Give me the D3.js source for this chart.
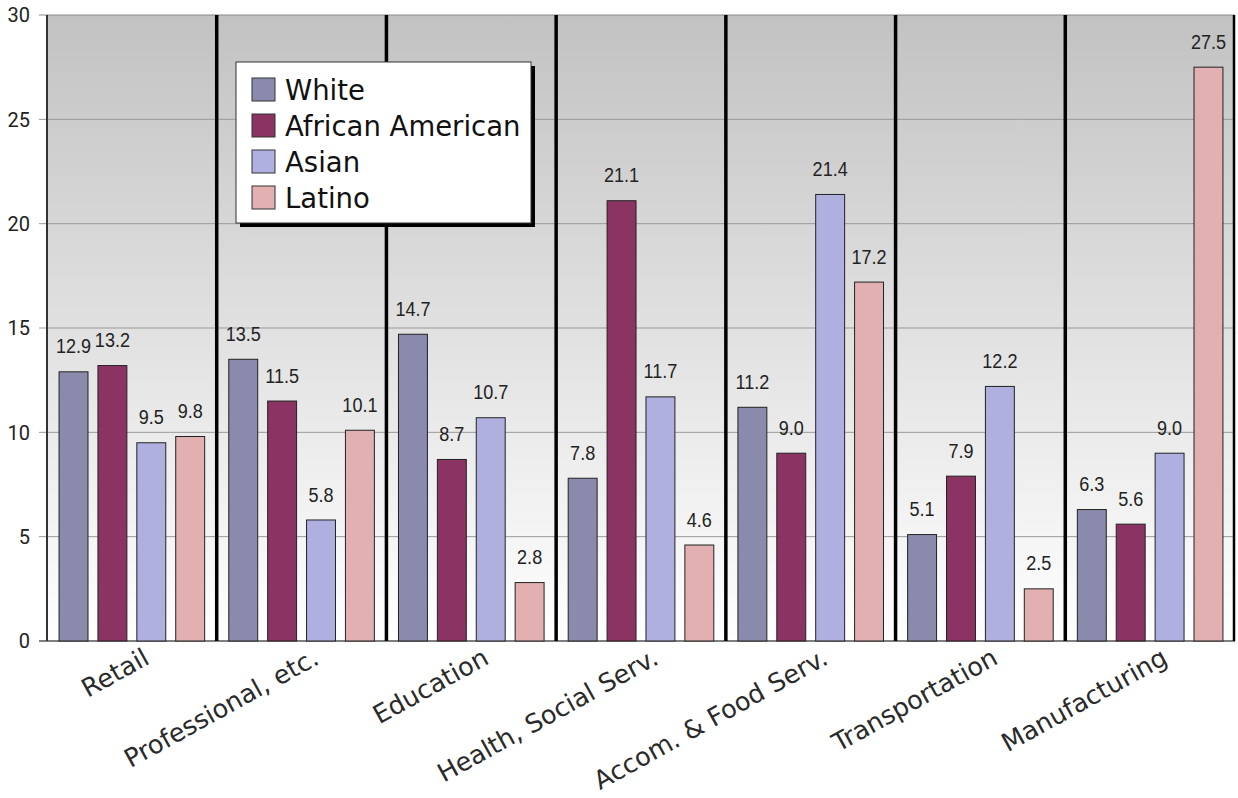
<!DOCTYPE html>
<html>
<head>
<meta charset="utf-8">
<script src="https://cdn.jsdelivr.net/npm/d3@7"></script>
<style>
  html, body { margin: 0; padding: 0; background: #fff; }
  svg { display: block; }
</style>
</head>
<body>
<svg id="chart" width="1238" height="798"></svg>
<script>
// Industry share of employment by group (%)
const categories = ["Retail", "Professional, etc.", "Education", "Health, Social Serv.",
                    "Accom. & Food Serv.", "Transportation", "Manufacturing"];
const seriesNames = ["White", "African American", "Asian", "Latino"];
const white           = [12.9, 13.5, 14.7, 7.8, 11.2, 5.1, 6.3];
const africanAmerican = [13.2, 11.5, 8.7, 21.1, 9.0, 7.9, 5.6];
const asian           = [9.5, 5.8, 10.7, 11.7, 21.4, 12.2, 9.0];
const latino          = [9.8, 10.1, 2.8, 4.6, 17.2, 2.5, 27.5];
const yTicks = [0, 5, 10, 15, 20, 25, 30];

const seriesValues = [white, africanAmerican, asian, latino];
const colors = ["#8a8aac", "#8b3363", "#b0b0e0", "#e2b0b0"];

const svg = d3.select("#chart");
const margin = { left: 47, right: 3, top: 15, bottom: 157 };
const W = 1238, H = 798;
const plotW = W - margin.left - margin.right;
const plotH = H - margin.top - margin.bottom;

const x0 = d3.scaleBand().domain(categories).range([margin.left, margin.left + plotW]).padding(0);
const x1 = d3.scaleBand().domain(seriesNames).range([0, x0.bandwidth()])
  .paddingInner(0.256).paddingOuter(0.31);
const y = d3.scaleLinear().domain([0, 30]).range([margin.top + plotH, margin.top]);

// background gradient of the plot area
const defs = svg.append("defs");
const grad = defs.append("linearGradient").attr("id", "bg")
  .attr("x1", 0).attr("y1", 0).attr("x2", 0).attr("y2", 1);
grad.append("stop").attr("offset", "0%").attr("stop-color", "#c2c2c2");
grad.append("stop").attr("offset", "100%").attr("stop-color", "#ffffff");

svg.append("rect")
  .attr("x", margin.left).attr("y", margin.top)
  .attr("width", plotW).attr("height", plotH)
  .attr("fill", "url(#bg)");

// gridlines with tick stubs on the left
svg.append("g").selectAll("line").data(yTicks).join("line")
  .attr("x1", margin.left - 8).attr("x2", margin.left + plotW)
  .attr("y1", d => y(d)).attr("y2", d => y(d))
  .attr("stroke", d => d === 0 ? "#555" : (d === 30 ? "#888" : "#999"))
  .attr("stroke-width", d => d === 0 ? 1.5 : 1);

// y tick labels
svg.append("g").selectAll("text").data(yTicks).join("text")
  .attr("x", margin.left - 17).attr("y", d => y(d))
  .attr("dy", "0.36em")
  .attr("text-anchor", "end")
  .attr("font-family", "Roboto, 'Liberation Sans', sans-serif")
  .attr("font-size", 20)
  .attr("fill", "#222")
  .text(d => d);

// left border
svg.append("line")
  .attr("x1", margin.left).attr("x2", margin.left)
  .attr("y1", margin.top).attr("y2", margin.top + plotH)
  .attr("stroke", "#333").attr("stroke-width", 2);

// category separators (and right border)
svg.append("g").selectAll("line").data(categories.slice(1).concat(["__end"])).join("line")
  .attr("x1", (d, i) => i < categories.length - 1 ? x0(d) : margin.left + plotW - 1)
  .attr("x2", (d, i) => i < categories.length - 1 ? x0(d) : margin.left + plotW - 1)
  .attr("y1", margin.top).attr("y2", margin.top + plotH)
  .attr("stroke", "#000").attr("stroke-width", (d, i) => i < categories.length - 1 ? 3.5 : 2.5);

// bars
const groups = svg.append("g").selectAll("g").data(categories).join("g")
  .attr("transform", d => `translate(${x0(d)},0)`);

groups.each(function(cat, ci) {
  const g = d3.select(this);
  const rows = seriesNames.map((s, si) => ({ s, si, v: seriesValues[si][ci] }));
  g.selectAll("rect").data(rows).join("rect")
    .attr("x", d => x1(d.s))
    .attr("y", d => y(d.v))
    .attr("width", x1.bandwidth())
    .attr("height", d => y(0) - y(d.v))
    .attr("fill", d => colors[d.si])
    .attr("stroke", "#222").attr("stroke-width", 1);
  // value labels in a condensed face
  g.selectAll("text").data(rows).join("text")
    .attr("transform", d => `translate(${x1(d.s) + x1.bandwidth() / 2},${y(d.v) - 26}) scale(0.86,1)`)
    .attr("dy", "0.36em")
    .attr("text-anchor", "middle")
    .attr("font-family", "'Liberation Sans', Arial, sans-serif")
    .attr("font-size", 21)
    .attr("fill", "#222")
    .text(d => d.v.toFixed(1));
});

// rotated category labels
svg.append("g").selectAll("text").data(categories).join("text")
  .attr("transform", d => `translate(${x0(d) + x0.bandwidth() / 2 + 19},${y(0) + 22}) rotate(-29)`)
  .attr("text-anchor", "end")
  .attr("font-family", "'DejaVu Sans', sans-serif")
  .attr("font-size", 25.5)
  .attr("fill", "#2a2a2a")
  .text(d => d);

// legend with drop shadow
const lg = svg.append("g").attr("transform", "translate(236,62)");
const lgW = 295, lgH = 161;
lg.append("rect").attr("x", 4).attr("y", 4).attr("width", lgW).attr("height", lgH).attr("fill", "#000");
lg.append("rect").attr("x", 0).attr("y", 0).attr("width", lgW).attr("height", lgH)
  .attr("fill", "#fff").attr("stroke", "#333").attr("stroke-width", 1);
const items = lg.selectAll("g.item").data(seriesNames).join("g")
  .attr("class", "item")
  .attr("transform", (d, i) => `translate(16,${16 + i * 36})`);
items.append("rect").attr("width", 23).attr("height", 23)
  .attr("fill", (d, i) => colors[i]).attr("stroke", "#333").attr("stroke-width", 1);
items.append("text").attr("x", 33).attr("y", 12).attr("dy", "0.36em")
  .attr("font-family", "'DejaVu Sans', sans-serif")
  .attr("font-size", 27.5)
  .attr("fill", "#111")
  .text(d => d);
</script>
</body>
</html>
